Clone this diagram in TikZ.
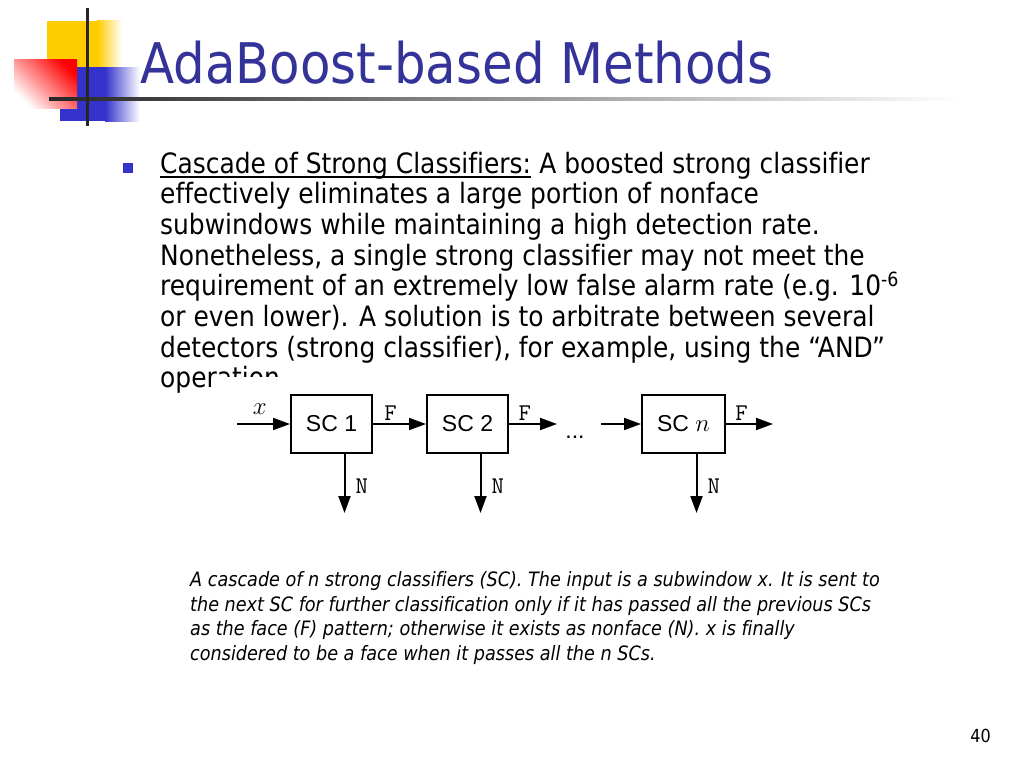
\documentclass[tikz,border=0pt]{standalone}
\usepackage{fontspec}
\setmainfont{DejaVu Sans}[FakeStretch=0.89,Ligatures=NoCommon]
\newfontfamily\figsans{Liberation Sans}
\usepackage{tikz}
\usetikzlibrary{arrows.meta,positioning}
\definecolor{titleblue}{RGB}{51,51,153}
\definecolor{dotblue}{RGB}{51,51,204}
\definecolor{logoyellow}{RGB}{255,204,0}
\definecolor{logored}{RGB}{255,0,0}
\definecolor{logoblue}{RGB}{51,51,204}
\tikzset{
  bodyline/.style={anchor=base west,inner sep=0pt,font=\fontsize{28}{30}\selectfont},
  capline/.style={anchor=base west,inner sep=0pt,font=\fontsize{19.8}{21}\selectfont\itshape},
  scbox/.style={draw,line width=2pt,minimum width=81pt,minimum height=58pt,inner sep=0pt,
    font=\figsans\fontsize{23}{26}\selectfont},
  flow/.style={-{Triangle[length=17pt,width=12pt]},line width=2pt},
  lbl/.style={inner sep=2pt,font=\ttfamily\fontsize{24}{26}\selectfont},
  bulletsq/.style={fill=dotblue,minimum size=10pt,inner sep=0pt},
}

\begin{document}
\begin{tikzpicture}[x=1pt,y=-1pt]
\useasboundingbox[fill=white] (0,0) rectangle (1024,768);
% logo
\fill[logoyellow] (47,21) rectangle (97,70);
\shade[left color=logoyellow,right color=white] (97,21) rectangle (122,70);
\fill[logoblue] (60,67) rectangle (105,121);
\shade[left color=logoblue,right color=white] (105,67) rectangle (140,121);
\shade[top color=logored,bottom color=white,shading angle=-45] (14,59) rectangle (77,108);
\shade[left color=black!85,right color=white] (49,97.5) rectangle (960,100.5);
\draw[line width=3pt,black!85] (87,8) -- (87,126);
% title
\node[anchor=base west,inner sep=0pt,text=titleblue,font=\fontsize{56}{60}\selectfont]
  (title) at (140,83) {AdaBoost-based Methods};
% bullet text
\node[bulletsq] (bullet) at (128,168) {};
\node[bodyline] (l1) at (160,173) {Cascade of Strong Classifiers:};
\node[bodyline] (l1b) at (l1.base east) {\ A boosted strong classifier};
\draw[line width=1.4pt] ([yshift=-4pt]l1.base west) -- ([yshift=-4pt]l1.base east);
\node[bodyline] (l2) at (160,203.7) {effectively eliminates a large portion of nonface};
\node[bodyline] (l3) at (160,234.4) {subwindows while maintaining a high detection rate.};
\node[bodyline] (l4) at (160,265.1) {Nonetheless, a single strong classifier may not meet the};
\node[bodyline] (l5) at (160,295.8) {requirement of an extremely low false alarm rate (e.g. 10\textsuperscript{-6}};
\node[bodyline] (l6) at (160,326.5) {or even lower). A solution is to arbitrate between several};
\node[bodyline] (l7) at (160,357.2) {detectors (strong classifier), for example, using the “AND”};
\node[bodyline] (l8) at (160,387.9) {operation.};
% cascade figure
\fill[white] (218,377) rectangle (790,522);
\coordinate (in) at (237,424);
\node[scbox] (sc1) at (331.5,424) {SC 1};
\node[scbox,right=53pt of sc1] (sc2) {SC 2};
\node[scbox,minimum width=83pt,right=132pt of sc2] (scn) {SC $n$};
\coordinate (out2) at (557,424);
\node[anchor=base,inner sep=0pt,font=\figsans\fontsize{23}{26}\selectfont] (dots) at (575,438) {...};
\coordinate (inn) at (601,424);
\coordinate (outn) at (773,424);
\draw[flow] (in) -- node[pos=0.43,above=9pt,inner sep=0pt,font=\fontsize{26}{26}\selectfont] {$x$} (sc1);
\draw[flow] (sc1) -- node[pos=0.33,above=1pt,lbl] {F} (sc2);
\draw[flow] (sc2) -- node[pos=0.33,above=1pt,lbl] {F} (out2);
\draw[flow] (inn) -- (scn);
\draw[flow] (scn) -- node[pos=0.33,above=1pt,lbl] {F} (outn);
\coordinate (n1) at ([xshift=13pt,yshift=-59pt]sc1.south);
\coordinate (n2) at ([xshift=13pt,yshift=-59pt]sc2.south);
\coordinate (nn) at ([xshift=13pt,yshift=-59pt]scn.south);
\draw[flow] (sc1.south -| n1) -- node[pos=0.55,right=8pt,lbl] {N} (n1);
\draw[flow] (sc2.south -| n2) -- node[pos=0.55,right=8pt,lbl] {N} (n2);
\draw[flow] (scn.south -| nn) -- node[pos=0.55,right=8pt,lbl] {N} (nn);
% caption
\node[capline] (c1) at (190,586) {A cascade of n strong classifiers (SC). The input is a subwindow x. It is sent to};
\node[capline] (c2) at (190,611) {the next SC for further classification only if it has passed all the previous SCs};
\node[capline] (c3) at (190,635.5) {as the face (F) pattern; otherwise it exists as nonface (N). x is finally};
\node[capline] (c4) at (190,660) {considered to be a face when it passes all the n SCs.};
% page number
\node[anchor=base east,inner sep=0pt,font=\fontsize{18}{20}\selectfont] (pageno) at (991,742) {40};
\end{tikzpicture}
\end{document}
